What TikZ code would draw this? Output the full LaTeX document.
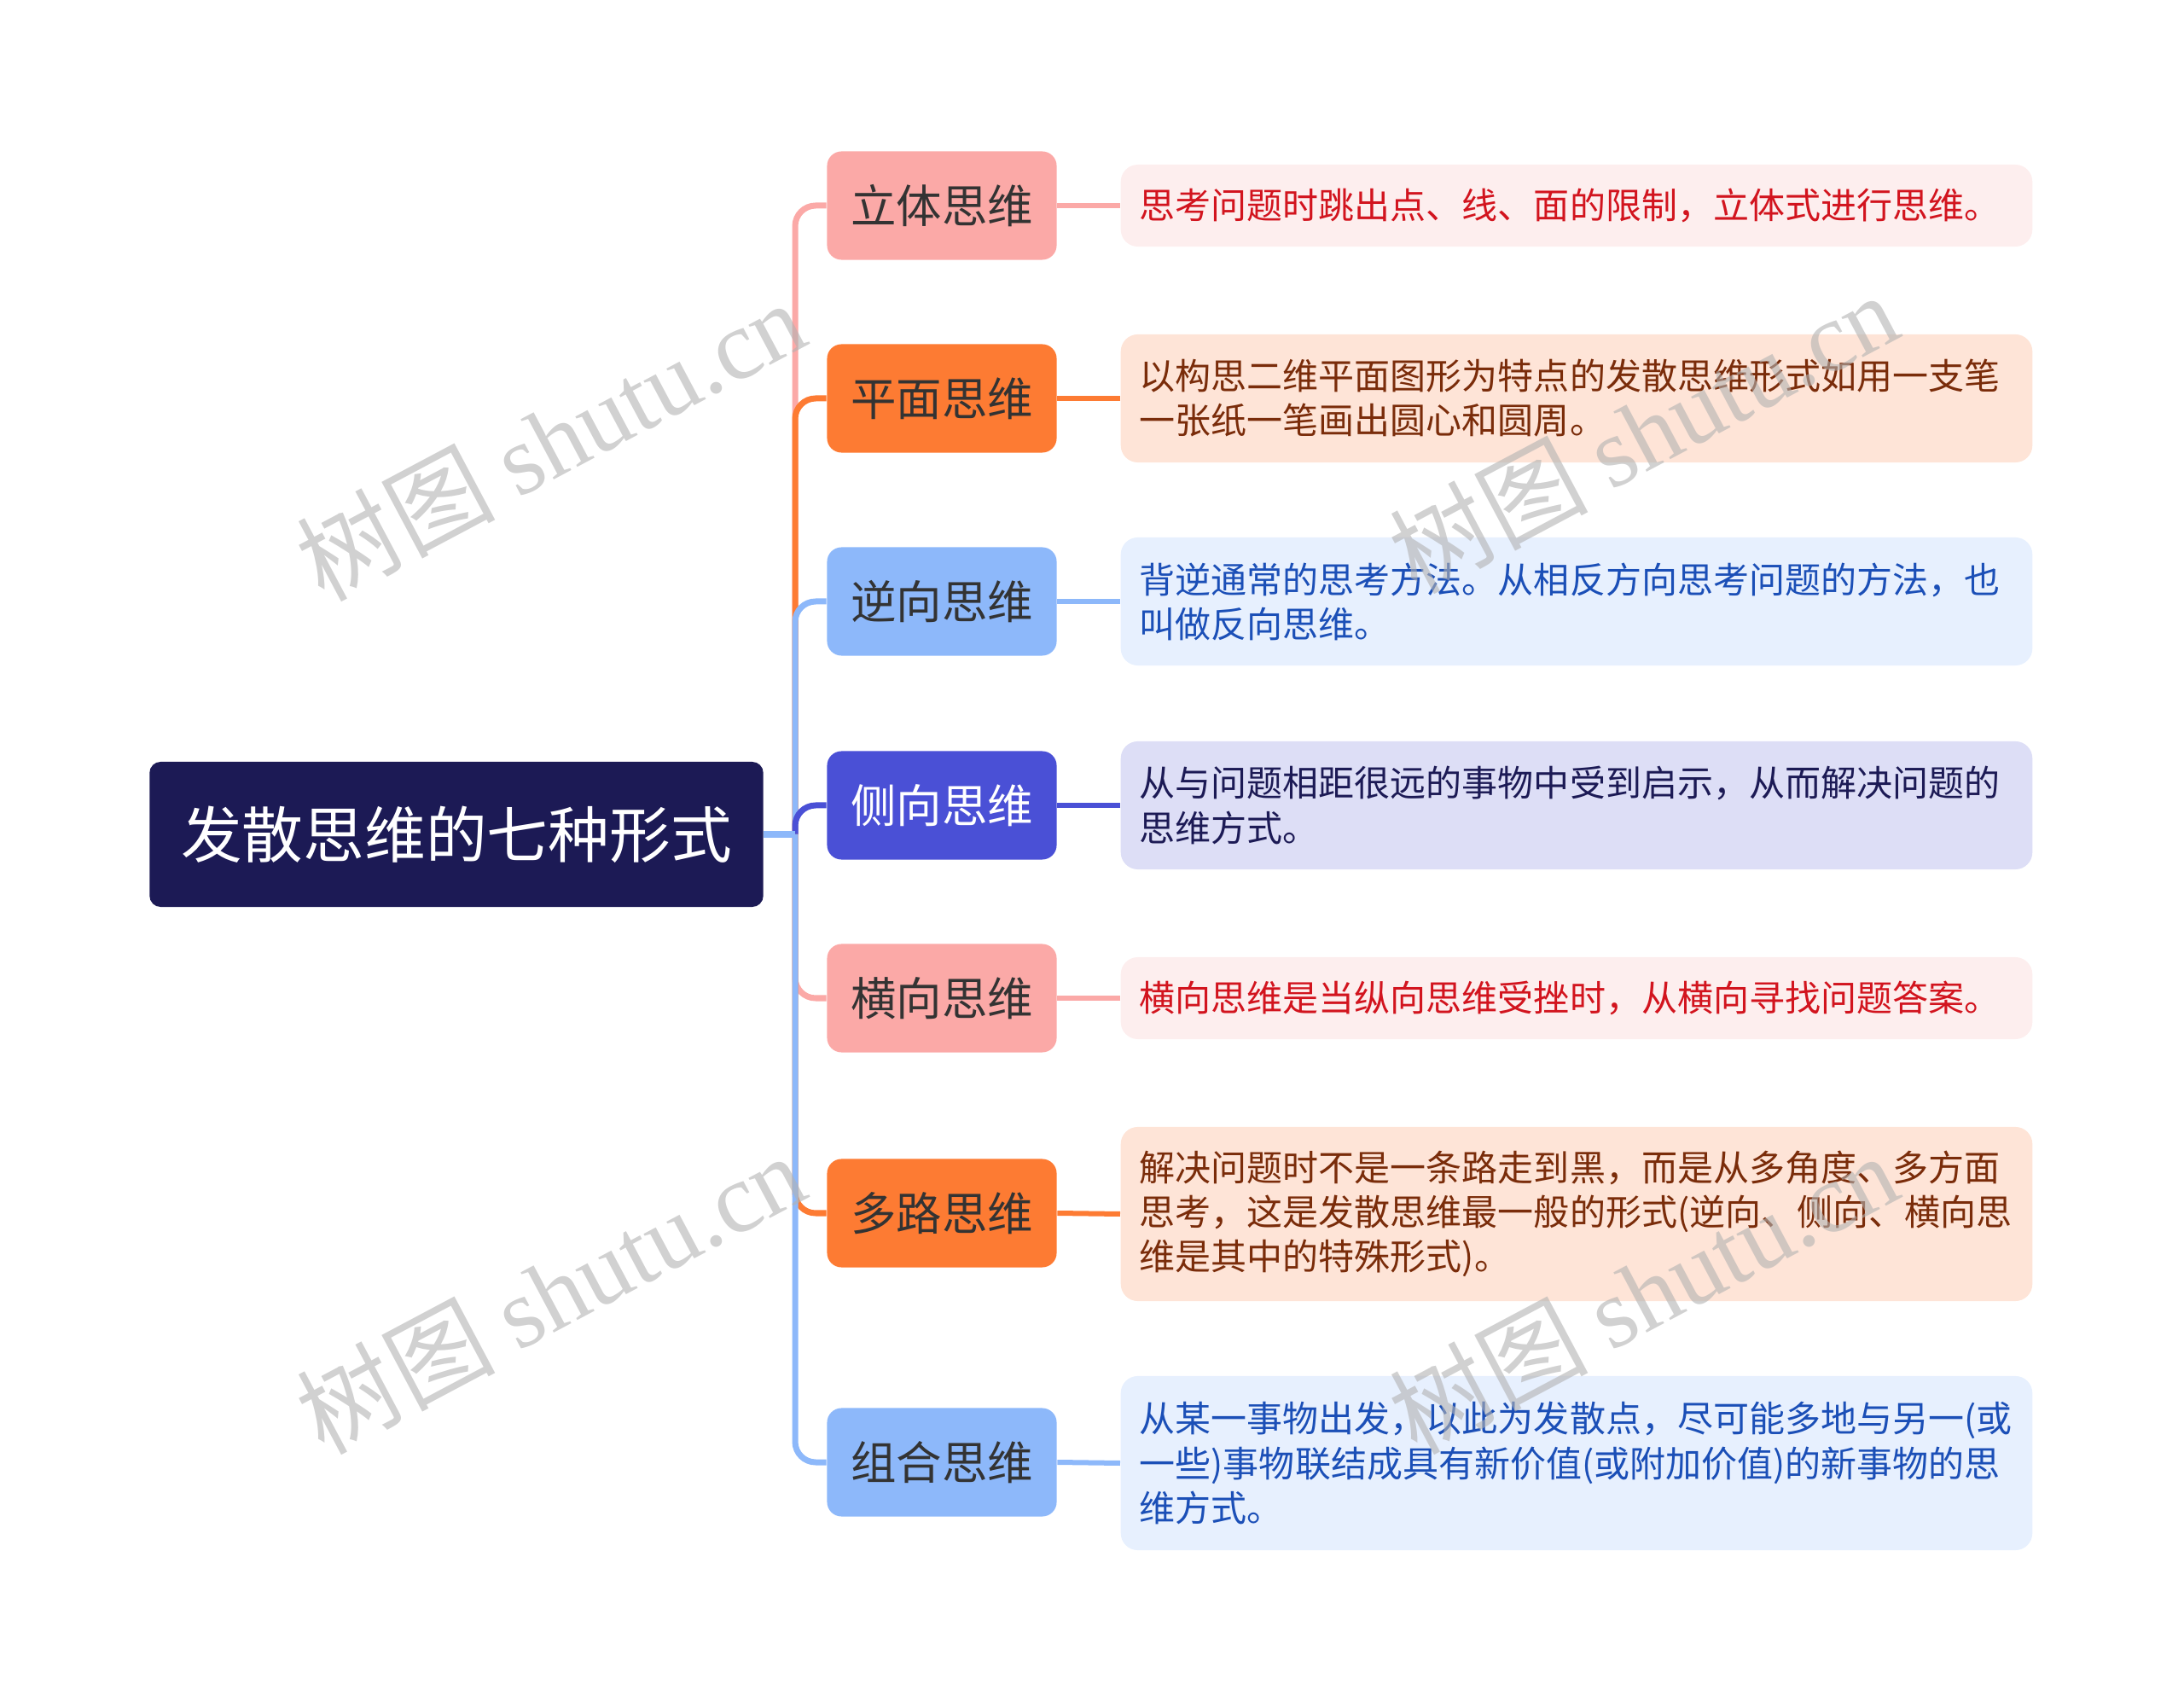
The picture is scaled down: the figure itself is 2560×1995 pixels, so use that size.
\documentclass[tikz,border=0pt]{standalone}
\usepackage{fontspec}
\setmainfont{Noto Sans CJK SC}
\newfontfamily\wmserif{Liberation Serif}
\usepackage{tikz}
\usetikzlibrary{calc}

\definecolor{rootnavy}{HTML}{1C1A55}
\definecolor{topicgrey}{HTML}{333333}
\definecolor{pinkbox}{HTML}{FBA9A7}
\definecolor{pinknote}{HTML}{FDEEEE}
\definecolor{pinktext}{HTML}{D2141E}
\definecolor{orangebox}{HTML}{FD7B33}
\definecolor{orangenote}{HTML}{FEE4D7}
\definecolor{orangetext}{HTML}{7A2C0A}
\definecolor{bluebox}{HTML}{8DB8FA}
\definecolor{bluenote}{HTML}{E7F0FE}
\definecolor{bluetext}{HTML}{1B4FB7}
\definecolor{indigobox}{HTML}{4A50D6}
\definecolor{indigonote}{HTML}{DDDEF6}

\tikzset{
	rootbox/.style={fill=rootnavy, text=white, rounded corners=0.13cm, inner sep=0pt,
		minimum width=7.19cm, minimum height=1.70cm, font=\fontsize{20.4}{24}\selectfont},
	topicbox/.style={text=topicgrey, rounded corners=0.17cm, inner sep=0pt,
		minimum width=2.69cm, minimum height=1.27cm, font=\fontsize{15.2}{18}\selectfont},
	notebox/.style={rounded corners=0.2cm, inner xsep=0.22cm, inner ysep=0pt,
		text width=10.24cm, align=left, font=\fontsize{11.95}{14.8}\selectfont},
	branch/.style={line width=0.07cm, rounded corners=0.24cm},
	stub/.style={line width=0.06cm},
	wmark/.style={rotate=28, opacity=0.6, text=black!30, font=\fontsize{33}{38}\selectfont}
}

\begin{document}
\begin{tikzpicture}[x=0.01cm,y=-0.01cm]
	\useasboundingbox (0,0) rectangle (2560,1995);

	\node[rootbox] (root) at (535,978) {发散思维的七种形式};

	%first level
	\node[topicbox, fill=pinkbox]   (t1) at (1104,241)  {立体思维};
	\node[topicbox, fill=orangebox] (t2) at (1104,467)  {平面思维};
	\node[topicbox, fill=bluebox]   (t3) at (1104,705)  {逆向思维};
	\node[topicbox, fill=indigobox, text=white] (t4) at (1104,944) {侧向思维};
	\node[topicbox, fill=pinkbox]   (t5) at (1104,1170) {横向思维};
	\node[topicbox, fill=orangebox] (t6) at (1104,1422) {多路思维};
	\node[topicbox, fill=bluebox]   (t7) at (1104,1714) {组合思维};

	%notes
	\node[notebox, fill=pinknote, text=pinktext, minimum height=0.96cm] (n1) at (1848,241)
		{思考问题时跳出点、线、面的限制，立体式进行思维。};
	\node[notebox, fill=orangenote, text=orangetext, minimum height=1.50cm] (n2) at (1848,467)
		{以构思二维平面图形为特点的发散思维形式如用一支笔\\一张纸一笔画出圆心和圆周。};
	\node[notebox, fill=bluenote, text=bluetext, minimum height=1.50cm] (n3) at (1848,705)
		{背逆通常的思考方法。从相反方向思考问题的方法，也\\叫做反向思维。};
	\node[notebox, fill=indigonote, text=rootnavy, minimum height=1.50cm] (n4) at (1848,944)
		{从与问题相距很远的事物中受到启示，从而解决问题的\\思维方式。};
	\node[notebox, fill=pinknote, text=pinktext, minimum height=0.96cm] (n5) at (1848,1170)
		{横向思维是当纵向思维受挫时，从横向寻找问题答案。};
	\node[notebox, fill=orangenote, text=orangetext, minimum height=2.04cm] (n6) at (1848,1423)
		{解决问题时不是一条路走到黑，而是从多角度、多方面\\思考，这是发散思维最一般的形式(逆向、侧向、横向思\\维是其中的特殊形式)。};
	\node[notebox, fill=bluenote, text=bluetext, minimum height=2.04cm] (n7) at (1848,1715)
		{从某一事物出发，以此为发散点，尽可能多地与另一(或\\一些)事物联结成具有新价值(或附加价值)的新事物的思\\维方式。};

	\coordinate (hub) at (932,978);

	%branches (later ones lie on top)
	\draw[branch, pinkbox]   (hub) |- (t1.west);
	\draw[branch, orangebox] (hub) |- (t2.west);
	\draw[branch, bluebox]   (hub) |- (t3.west);
	\draw[branch, indigobox] (hub) |- (t4.west);
	\draw[branch, pinkbox]   (hub) |- (t5.west);
	\draw[branch, orangebox] (hub) |- (t6.west);
	\draw[branch, bluebox]   (hub) |- (t7.west);
	\draw[line width=0.08cm, bluebox] (root.east) -- (hub);

	%topic -- note
	\draw[stub, pinkbox]   (t1.east) -- (n1.west);
	\draw[stub, orangebox] (t2.east) -- (n2.west);
	\draw[stub, bluebox]   (t3.east) -- (n3.west);
	\draw[stub, indigobox] (t4.east) -- (n4.west);
	\draw[stub, pinkbox]   (t5.east) -- (n5.west);
	\draw[stub, orangebox] (t6.east) -- (n6.west);
	\draw[stub, bluebox]   (t7.east) -- (n7.west);

	%watermarks
	\node[wmark] (w1) at (645,515)  {树图 {\wmserif shutu.cn}};
	\node[wmark] (w2) at (1926,506) {树图 {\wmserif shutu.cn}};
	\node[wmark] (w3) at (645,1515) {树图 {\wmserif shutu.cn}};
	\node[wmark] (w4) at (1926,1515) {树图 {\wmserif shutu.cn}};
\end{tikzpicture}
\end{document}
